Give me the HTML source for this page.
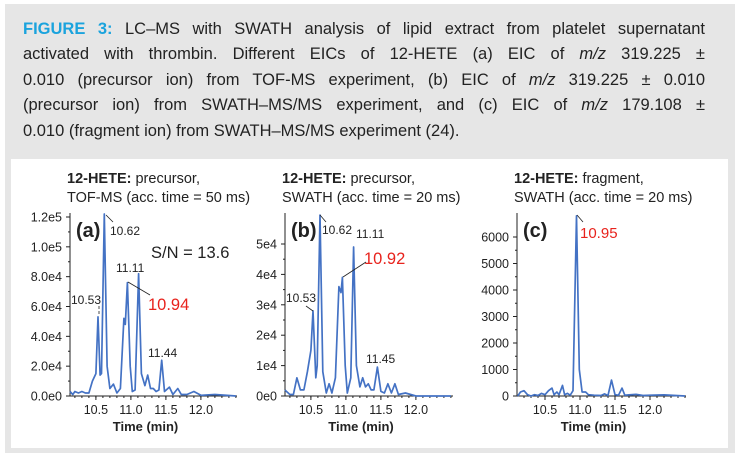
<!DOCTYPE html>
<html><head><meta charset="utf-8"><style>
body{margin:0;background:#fff;width:740px;height:460px;overflow:hidden;font-family:"Liberation Sans",sans-serif}
#outer{position:absolute;left:5px;top:4px;width:730px;height:449px;background:#e6e6e6}
#panel{position:absolute;left:11px;top:159px;width:717px;height:289px;background:#fff}
.cap{position:absolute;left:23px;width:682px;font-size:16.5px;color:#222;text-align:justify;text-align-last:justify;white-space:nowrap;line-height:20px}
.cap.last{text-align-last:left}
svg{position:absolute;left:0;top:0}
</style></head><body>
<div id="outer"></div>
<div id="panel"></div>
<div>
<div class="cap" style="top:19px"><b style="color:#1aa3dd">FIGURE 3:</b> LC–MS with SWATH analysis of lipid extract from platelet supernatant</div>
<div class="cap" style="top:44px">activated with thrombin. Different EICs of 12-HETE (a) EIC of <i>m/z</i> 319.225 ±</div>
<div class="cap" style="top:70px">0.010 (precursor ion) from TOF-MS experiment, (b) EIC of <i>m/z</i> 319.225 ± 0.010</div>
<div class="cap" style="top:95px">(precursor ion) from SWATH–MS/MS experiment, and (c) EIC of <i>m/z</i> 179.108 ±</div>
<div class="cap last" style="top:121px">0.010 (fragment ion) from SWATH–MS/MS experiment (24).</div>
</div>
<svg id="chart" width="740" height="460" xmlns="http://www.w3.org/2000/svg" font-family="Liberation Sans, sans-serif"></svg>
<script>
const timesA=[10.13,10.17,10.2,10.25,10.3,10.35,10.4,10.45,10.5,10.53,10.56,10.58,10.62,10.66,10.7,10.75,10.8,10.85,10.9,10.92,10.95,10.99,11.02,11.06,11.11,11.15,11.2,11.24,11.28,11.32,11.36,11.4,11.44,11.48,11.55,11.6,11.67,11.72,11.8,11.9,12.0,12.2,12.5];
const valuesA=[0.3,0.1,0.3,0.2,0.3,0.2,0.2,1.0,1.5,5.3,1.4,1.5,12.2,2,0.5,0.8,0.2,0.5,5.2,4.8,7.6,2,0.3,0.4,8.2,1.5,0.7,1.4,0.5,0.5,0.3,0.4,2.4,0.3,0.6,0.1,0.5,0.1,0.1,0.3,0.05,0.1,0];
const timesB=[10.13,10.15,10.2,10.25,10.3,10.35,10.4,10.45,10.5,10.53,10.57,10.59,10.63,10.67,10.72,10.76,10.8,10.85,10.9,10.93,10.95,10.99,11.02,11.07,11.11,11.15,11.2,11.24,11.28,11.32,11.36,11.4,11.45,11.5,11.55,11.6,11.65,11.7,11.75,11.85,12.0,12.5];
const valuesB=[0.2,0.15,0.05,0.05,0.6,0.2,0.2,0.8,1.5,2.8,0.6,1,5.95,0.8,0.1,0.4,0.1,0.6,3.6,3.4,3.9,1,0.1,0.6,4.9,1,0.3,0.6,0.3,0.4,0.2,0.2,0.95,0.15,0.1,0.4,0.1,0.4,0.05,0.1,0,0];
const timesC=[10.11,10.15,10.2,10.25,10.3,10.35,10.4,10.45,10.5,10.55,10.6,10.63,10.67,10.7,10.75,10.78,10.82,10.86,10.9,10.95,10.99,11.03,11.08,11.12,11.2,11.3,11.35,11.4,11.45,11.5,11.55,11.6,11.64,11.7,11.8,11.9,12.0,12.2,12.5];
const valuesC=[0,150,200,50,0,50,20,100,50,200,300,50,150,50,400,50,100,30,200,6800,1000,150,150,50,30,20,80,20,600,50,30,300,30,40,60,20,30,40,0];
const xTickVals=[10.5,11.0,11.5,12.0];
const yTicksA=[0,2,4,6,8,10,12];
const yLabelsA=["0.0e0","2.0e4","4.0e4","6.0e4","8.0e4","1.0e5","1.2e5"];
const yTicksB=[0,1,2,3,4,5];
const yLabelsB=["0e0","1e4","2e4","3e4","4e4","5e4"];
const yTicksC=[0,1000,2000,3000,4000,5000,6000];
const yLabelsC=["0","1000","2000","3000","4000","5000","6000"];

const svg=document.getElementById('chart');
const NS='http://www.w3.org/2000/svg';
function mk(tag,attrs,parent){const e=document.createElementNS(NS,tag);for(const k in attrs)e.setAttribute(k,attrs[k]);(parent||svg).appendChild(e);return e;}
function txt(x,y,s,attrs,parent){const e=mk('text',Object.assign({x:x,y:y},attrs),parent);e.textContent=s;return e;}

function panel(cfg){
  const g=mk('g',{});
  
  
  const L=cfg.left,R=cfg.right,T=215,B=396;
  const xs=t=>L+(t-cfg.t0)*70;
  const ys=v=>B-(v/cfg.ymax)*(B-cfg.ytop);
  const t1=txt(cfg.left-3,183,'',{'font-size':14.5,fill:'#222'},g);
  t1.innerHTML='<tspan font-weight="bold">12-HETE:</tspan> '+cfg.title1;
  
  
  txt(cfg.left-3,202,cfg.title2,{'font-size':14.5,fill:'#222'},g);
  const ax=mk('path',{d:`M${L},${T-2}V${B}H${R}`,stroke:'#222','stroke-width':1,fill:'none'},g);
  
  
  cfg.yTicks.forEach((v,i)=>{
    const y=ys(v);
    mk('line',{x1:L-4,x2:L,y1:y,y2:y,stroke:'#222'},g);
    const lb=txt(L-8,y+4.5,cfg.yLabels[i],{'font-size':12.5,fill:'#222','text-anchor':'end'},g);
    
    
    if(i<cfg.yTicks.length-1){const ym=ys((v+cfg.yTicks[i+1])/2);mk('line',{x1:L-2,x2:L,y1:ym,y2:ym,stroke:'#222'},g);}
  });
  for(let t=10.2;t<12.5;t+=0.1){const x=xs(t);if(x>L&&x<R)mk('line',{x1:x,x2:x,y1:B,y2:B+2,stroke:'#222'},g);}
  xTickVals.forEach(t=>{
    const x=xs(t);
    mk('line',{x1:x,x2:x,y1:B,y2:B+4,stroke:'#222'},g);
    const lb=txt(x,B+18,t.toFixed(1),{'font-size':12.5,fill:'#222','text-anchor':'middle'},g);
    
    
  });
  const xt=txt((L+R)/2-8,431,'Time (min)',{'font-size':13,'font-weight':'bold',fill:'#222','text-anchor':'middle'},g);
  
  
  const d=cfg.times.map((t,i)=>(i?'L':'M')+xs(t).toFixed(1)+','+ys(cfg.values[i]).toFixed(1)).join('');
  const p=mk('path',{d:d,stroke:'#4472c4','stroke-width':1.7,fill:'none','stroke-linejoin':'round'},g);
  
  
  const pl=txt(L+6,237,cfg.label,{'font-size':20,'font-weight':'bold',fill:'#222'},g);
  
  
  return g;
}
const ga=panel({name:'chart-a',left:70,right:237,t0:10.13,ymax:12,ytop:217,yTicks:yTicksA,yLabels:yLabelsA,title1:'precursor,',title2:'TOF-MS (acc. time = 50 ms)',times:timesA,values:valuesA,label:'(a)'});
const gb=panel({name:'chart-b',left:285,right:453,t0:10.13,ymax:5,ytop:244,yTicks:yTicksB,yLabels:yLabelsB,title1:'precursor,',title2:'SWATH (acc. time = 20 ms)',times:timesB,values:valuesB,label:'(b)'});
const gc=panel({name:'chart-c',left:517,right:686,t0:10.1,ymax:6000,ytop:237,yTicks:yTicksC,yLabels:yLabelsC,title1:'fragment,',title2:'SWATH (acc. time = 20 ms)',times:timesC,values:valuesC,label:'(c)'});
function ann(g,x,y,s,red,size){const e=txt(x,y,s,{'font-size':size||12,fill:red?'#e8231d':'#222'},g);return e;}
function ln(g,x1,y1,x2,y2,dash){mk('line',{x1:x1,y1:y1,x2:x2,y2:y2,stroke:'#222','stroke-width':0.8,'stroke-dasharray':dash||'none'},g);}
ann(ga,110,235,'10.62');ln(ga,106,215,113,222);
ann(ga,151,258,'S/N = 13.6',false,16.5);
ann(ga,116,272,'11.11');ln(ga,128,282,150,295);
ann(ga,148,310,'10.94',true,16.5);
ann(ga,71,304,'10.53');ln(ga,99,306,99,314,'3,2');
ann(ga,148,357,'11.44');
ann(gb,322,234,'10.62');ln(gb,320,215,326,222);
ann(gb,356,238,'11.11');
ann(gb,364,264,'10.92',true,16.5);ln(gb,343,277,366,262);
ann(gb,286,302,'10.53');ln(gb,306,306,313,311);
ann(gb,366,363,'11.45');
ann(gc,580,238,'10.95',true,15);ln(gc,577,215,583,222);
</script>
</body></html>
